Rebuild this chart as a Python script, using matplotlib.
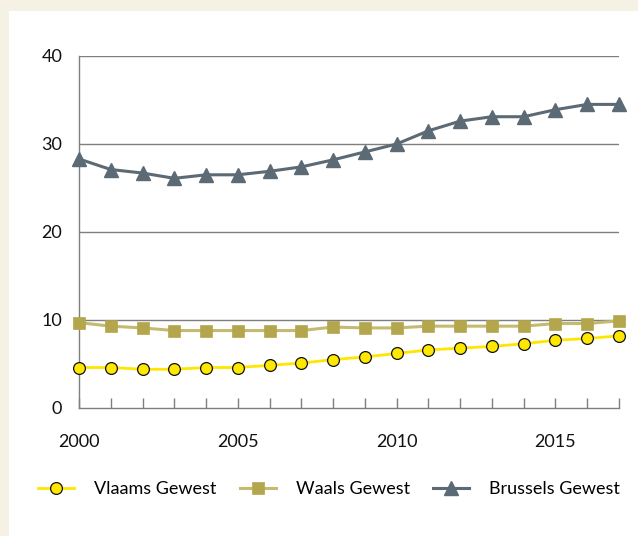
import matplotlib
matplotlib.use("Agg")
import matplotlib.pyplot as plt
from matplotlib.patches import Rectangle
from matplotlib.ticker import MultipleLocator

plt.rcParams['font.family'] = ['Lato', 'DejaVu Sans']

years = list(range(2000, 2018))
vlaams = [4.6, 4.6, 4.4, 4.4, 4.6, 4.6, 4.85, 5.1, 5.5, 5.8, 6.2, 6.6, 6.8, 7.0, 7.3, 7.7, 7.9, 8.2]
waals = [9.7, 9.3, 9.1, 8.8, 8.8, 8.8, 8.8, 8.8, 9.2, 9.1, 9.1, 9.3, 9.3, 9.3, 9.3, 9.6, 9.6, 9.9]
brussels = [28.3, 27.1, 26.7, 26.1, 26.5, 26.5, 26.9, 27.4, 28.2, 29.1, 30.0, 31.5, 32.6, 33.1, 33.1, 33.9, 34.5, 34.5]
labels = ['Vlaams Gewest', 'Waals Gewest', 'Brussels Gewest']
yticks = [0, 10, 20, 30, 40]
xticks = [2000, 2005, 2010, 2015]

W, H = 638, 536
fig = plt.figure(figsize=(W / 100, H / 100), dpi=100)
fig.patch.set_facecolor('#f5f1e4')
fig.patches.append(Rectangle((9 / W, 0), 1 - 9 / W, 1 - 11 / H, transform=fig.transFigure,
                             facecolor='white', edgecolor='none', zorder=-10))

ax = fig.add_axes([79 / W, 1 - 408 / H, (619 - 79) / W, (408 - 56) / H])
ax.set_facecolor('none')

grid_c = '#7f7f7f'
for y in yticks[1:]:
    ax.axhline(y, color=grid_c, lw=1.0, zorder=1)

l1, = ax.plot(years, vlaams, color='#ffe600', lw=2.0, marker='o', ms=8.5,
              mfc='#ffe800', mec='#111111', mew=0.9, clip_on=False, zorder=4)
l2, = ax.plot(years, waals, color='#c4ba70', lw=2.2, marker='s', ms=8.5,
              mfc='#b3a64c', mec='#b3a64c', mew=0.5, clip_on=False, zorder=3)
l3, = ax.plot(years, brussels, color='#5b6a74', lw=2.2, marker='^', ms=9.5,
              mfc='#5b6a74', mec='#5b6a74', clip_on=False, zorder=3)

ax.set_xlim(2000, 2017)
ax.set_ylim(0, 40)
ax.set_yticks(yticks)
ax.set_xticks(xticks)
ax.xaxis.set_minor_locator(MultipleLocator(1))
ax.tick_params(axis='x', which='both', direction='in', length=7.5, width=1.0, color=grid_c,
               pad=19, labelsize=13, labelcolor='#111111')
ax.tick_params(axis='y', length=0, pad=12, labelsize=13, labelcolor='#111111')

for s in ['top', 'right']:
    ax.spines[s].set_visible(False)
for s in ['left', 'bottom']:
    ax.spines[s].set_color(grid_c)
    ax.spines[s].set_linewidth(1.0)

fig.legend([l1, l2, l3], labels, loc='center', bbox_to_anchor=(329 / W, 1 - 489 / H),
           ncol=3, frameon=False, fontsize=13, handlelength=2.0, columnspacing=1.3,
           handletextpad=1.1)

fig.savefig('out.png', dpi=100, facecolor=fig.get_facecolor())
